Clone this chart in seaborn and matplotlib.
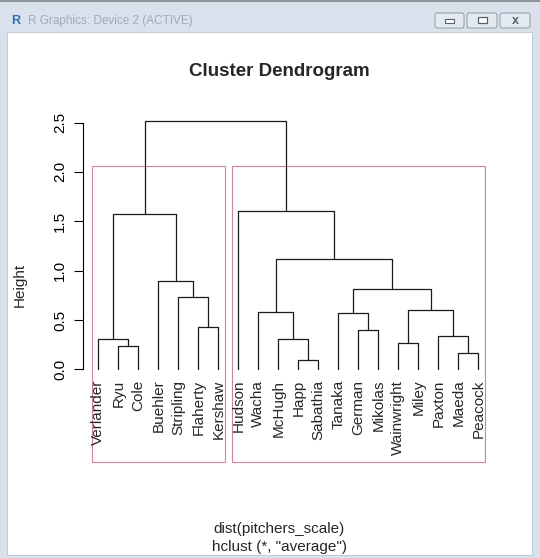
import numpy as np
import pandas as pd
import seaborn as sns
import matplotlib.pyplot as plt
from matplotlib.patches import Rectangle, FancyBboxPatch

# leaf labels in dendrogram order
labels = ["Verlander", "Ryu", "Cole", "Buehler", "Stripling", "Flaherty", "Kershaw",
          "Hudson", "Wacha", "McHugh", "Happ", "Sabathia", "Tanaka", "German",
          "Mikolas", "Wainwright", "Miley", "Paxton", "Maeda", "Peacock"]

# R style merge matrix (negative = leaf, positive = earlier merge) and heights
merge_left = [-11, -19, -2, -16, -10, -1, -18, -14, -6, -13, -9, 4, -5, 10, -4, 11, 6, -8, 17]
merge_right = [-12, -20, -3, -17, 1, 3, 2, -15, -7, 8, 5, 7, 9, 12, 13, 14, 15, 16, 18]
merge_height = [0.091, 0.165, 0.233, 0.263, 0.304, 0.31, 0.34, 0.40, 0.428, 0.567,
                0.577, 0.604, 0.733, 0.817, 0.895, 1.12, 1.57, 1.60, 2.515]

# rect.hclust(k = 2)
cluster_sizes = [7, 13]

y_ticks = [0.0, 0.5, 1.0, 1.5, 2.0, 2.5]

# segments of the tree
leaf_x = {i + 1: i + 1 for i in range(len(labels))}
node_x = {}
rows = []
seg = 0
for k, (a, b, h) in enumerate(zip(merge_left, merge_right, merge_height), start=1):
    xs, hs = [], []
    for c in (a, b):
        if c < 0:
            xs.append(leaf_x[-c]); hs.append(0.0)
        else:
            xs.append(node_x[c]); hs.append(merge_height[c - 1])
    node_x[k] = (xs[0] + xs[1]) / 2
    pts = [(xs[0], hs[0]), (xs[0], h), (xs[1], h), (xs[1], hs[1])]
    for j, (px, py) in enumerate(pts):
        rows.append({"seg": seg, "order": j, "x": px, "y": py})
    seg += 1
segs = pd.DataFrame(rows)

sns.set_style("white")
plt.rcParams['font.family'] = ['Liberation Sans', 'DejaVu Sans']

fig = plt.figure(figsize=(5.4, 5.58), dpi=100)
fig.patch.set_facecolor('#d9e2ec')

W, H = 540, 558
def fx(p): return p / W
def fy(p): return 1 - p / H

# window chrome
fig.patches.append(Rectangle((fx(7), fy(555)), fx(532) - fx(7), fy(32) - fy(555),
                             transform=fig.transFigure, facecolor='white', edgecolor='#b9c4d0',
                             linewidth=0.6, zorder=-5))
fig.patches.append(Rectangle((0, fy(2)), 1, fy(0) - fy(2), transform=fig.transFigure,
                             facecolor='#8d939a', edgecolor='none', zorder=-5))
fig.text(fx(11), fy(21), "R", color='#2f6db5', fontsize=9, fontweight='bold', va='center')
fig.text(fx(28), fy(21), "R Graphics: Device 2 (ACTIVE)", color='#a3acb6', fontsize=8.5, va='center')
for bx0, bx1 in [(435, 464), (467, 497), (500, 530)]:
    fig.patches.append(FancyBboxPatch((fx(bx0), fy(28)), fx(bx1) - fx(bx0), fy(13) - fy(28),
                                      boxstyle="round,pad=0,rounding_size=0.004",
                                      transform=fig.transFigure, facecolor='#e3e9f0',
                                      edgecolor='#8f9aa6', linewidth=0.7, zorder=-4))
fig.patches.append(Rectangle((fx(445), fy(22.5)), fx(9), fy(19) - fy(22.5), transform=fig.transFigure,
                             facecolor='white', edgecolor='#55606b', linewidth=0.8, zorder=-3))
fig.patches.append(Rectangle((fx(477.5), fy(23)), fx(9), fy(17) - fy(23), transform=fig.transFigure,
                             facecolor='white', edgecolor='#55606b', linewidth=0.9, zorder=-3))
fig.text(fx(515), fy(20.5), "x", color='#55606b', fontsize=9, fontweight='bold', ha='center', va='center')

# plot region
ylo, yhi = -0.936, 2.62
ax = fig.add_axes([fx(83.1), fy(461.7), fx(493.5) - fx(83.1), fy(110.7) - fy(461.7)])
ax.set_zorder(2)
ax.set_facecolor('none')
sns.lineplot(data=segs, x="x", y="y", units="seg", estimator=None, sort=False,
             color='#1a1a1a', linewidth=0.9, ax=ax)
ax.set_xlim(0.24, 20.76)
ax.set_ylim(ylo, yhi)

# cluster rectangles
rect_top = (merge_height[-1] + merge_height[-2]) / 2
m = np.concatenate([[0], np.cumsum(cluster_sizes)])
for i in range(len(cluster_sizes)):
    ax.add_patch(Rectangle((m[i] + 0.66, ylo), (m[i + 1] + 0.33) - (m[i] + 0.66), rect_top - ylo,
                           facecolor='none', edgecolor='#cf8596', linewidth=0.8, clip_on=False))

# leaf labels
for i, lab in enumerate(labels):
    ax.text(i + 1, -0.105, lab, rotation=90, ha='center', va='top', fontsize=11)

ax.set_xticks([])
ax.set_yticks(y_ticks)
ax.set_yticklabels([f"{t:.1f}" for t in y_ticks], rotation=90, va='center', fontsize=11)
ax.tick_params(axis='y', direction='out', length=6.5, width=0.8, pad=5, left=True, colors='black')
for s in ['top', 'right', 'bottom']:
    ax.spines[s].set_visible(False)
ax.spines['left'].set_bounds(0, 2.5)
ax.spines['left'].set_linewidth(0.8)
ax.spines['left'].set_color('black')
ax.set_xlabel("")
ax.set_ylabel("")

fig.text(fx(20), fy(285), "Height", rotation=90, ha='center', va='center', fontsize=11)
fig.text(fx(279), fy(72), "Cluster Dendrogram", ha='center', va='center', fontsize=13.5, fontweight='bold')
fig.text(fx(279), fy(529), "dist(pitchers_scale)", ha='center', va='center', fontsize=11)
fig.text(fx(279), fy(547), 'hclust (*, "average")', ha='center', va='center', fontsize=11)

fig.savefig("out.png", dpi=100, facecolor=fig.get_facecolor())
